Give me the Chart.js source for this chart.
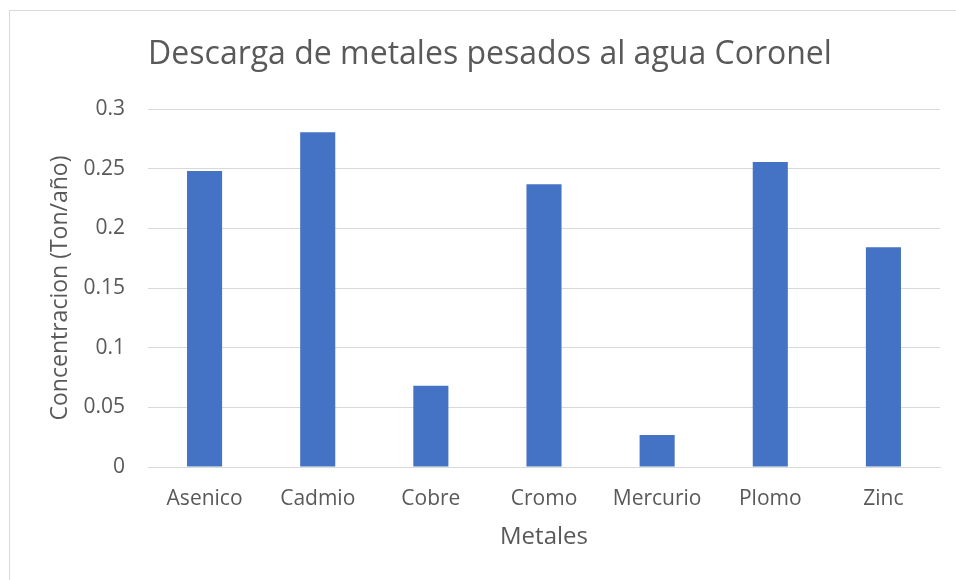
<!DOCTYPE html>
<html>
<head>
<meta charset="utf-8">
<title>Descarga de metales pesados al agua Coronel</title>
<script src="https://cdn.jsdelivr.net/npm/chart.js@4"></script>
<style>
  html, body { margin: 0; padding: 0; background: #fff; }
  #wrap { position: relative; width: 956px; height: 580px; overflow: hidden; }
  #frame {
    position: absolute; left: 9px; top: 10px; right: -2px; bottom: -2px;
    border: 1px solid #d9d9d9; pointer-events: none;
  }
</style>
</head>
<body>
<div id="wrap">
  <canvas id="metalsChart" width="956" height="580"></canvas>
  <div id="frame"></div>
</div>
<script>
// Descarga anual por metal (Ton/año)
const metales = ['Asenico', 'Cadmio', 'Cobre', 'Cromo', 'Mercurio', 'Plomo', 'Zinc'];
const concentracion = [0.248, 0.2805, 0.068, 0.237, 0.0268, 0.2555, 0.1842];
const yTicks = [0, 0.05, 0.1, 0.15, 0.2, 0.25, 0.3];

const textColor = '#595959';
const gridColor = '#d9d9d9';
const fontFamily = "'Open Sans', sans-serif";

const ctx = document.getElementById('metalsChart').getContext('2d');
new Chart(ctx, {
    type: 'bar',
    data: {
        labels: metales,
        datasets: [{
            label: 'Concentracion',
            data: concentracion,
            backgroundColor: '#4472C4',
            borderWidth: 0,
            barPercentage: 0.31,
            categoryPercentage: 1
        }]
    },
    options: {
        responsive: false,
        animation: false,
        // left padding keeps the title centred over the plot
        layout: { padding: { left: 40, right: 16, top: 0, bottom: 0 } },
        plugins: {
            legend: { display: false },
            tooltip: { enabled: false },
            title: {
                display: true,
                text: 'Descarga de metales pesados al agua Coronel',
                color: textColor,
                font: { family: fontFamily, size: 32, weight: 'normal' },
                padding: { top: 36, bottom: 34.6 }
            }
        },
        scales: {
            x: {
                grid: { display: false },
                border: { color: gridColor, width: 1 },
                ticks: {
                    color: textColor,
                    font: { family: fontFamily, size: 21 },
                    padding: 11,
                    maxRotation: 0
                },
                title: {
                    display: true,
                    text: 'Metales',
                    color: textColor,
                    font: { family: fontFamily, size: 24 },
                    padding: { top: 0, bottom: 28 }
                },
                afterFit: (scale) => { scale.height = 113; }
            },
            y: {
                min: 0,
                max: 0.3,
                afterBuildTicks: (scale) => {
                    scale.ticks = yTicks.map(v => ({ value: v }));
                },
                grid: { color: gridColor, lineWidth: 1, drawTicks: false },
                border: { display: false },
                ticks: {
                    color: textColor,
                    font: { family: fontFamily, size: 21 },
                    padding: 23,
                    callback: (v) => String(Number(v.toFixed(2)))
                },
                title: {
                    display: true,
                    text: 'Concentracion (Ton/año)',
                    color: textColor,
                    font: { family: fontFamily, size: 23 },
                    padding: { top: 7, bottom: 0 }
                },
                afterFit: (scale) => { scale.width = 108; }
            }
        }
    }
});
</script>
</body>
</html>
